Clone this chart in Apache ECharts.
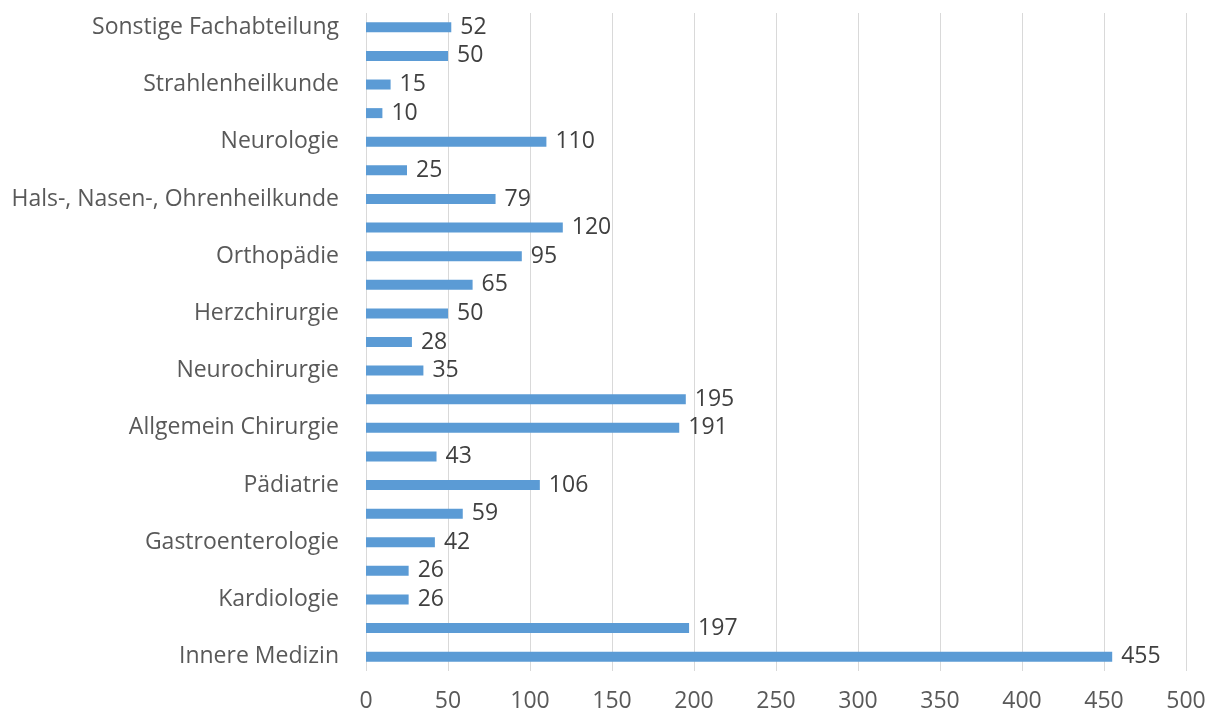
<!DOCTYPE html>
<html>
<head>
<meta charset="utf-8">
<style>
  html, body { margin: 0; padding: 0; background: #fff; }
  #chart { width: 1213px; height: 716px; }
</style>
<script src="https://cdn.jsdelivr.net/npm/echarts@6/dist/echarts.min.js"></script>
</head>
<body>
<div id="chart"></div>
<script>
// bottom to top; every second category has no visible label
const categories = [
  'Innere Medizin', '', 'Kardiologie', '', 'Gastroenterologie', '',
  'Pädiatrie', '', 'Allgemein Chirurgie', '', 'Neurochirurgie', '',
  'Herzchirurgie', '', 'Orthopädie', '', 'Hals-, Nasen-, Ohrenheilkunde', '',
  'Neurologie', '', 'Strahlenheilkunde', '', 'Sonstige Fachabteilung'
]
const values = [
  455, 197, 26, 26, 42, 59, 106, 43, 191, 195, 35, 28,
  50, 65, 95, 120, 79, 25, 110, 10, 15, 50, 52
]
const xTicks = [0, 500, 50] // min, max, interval

const chart = echarts.init(document.getElementById('chart'))

const font = "'Open Sans', sans-serif"

chart.setOption({
  animation: false,
  grid: {
    left: 366,
    right: 27,
    top: 13,
    bottom: 45,
    containLabel: false
  },
  xAxis: {
    type: 'value',
    min: xTicks[0],
    max: xTicks[1],
    interval: xTicks[2],
    axisLine: { show: false },
    axisTick: { show: false },
    axisLabel: { color: '#595959', fontSize: 23, fontFamily: font, margin: 19 },
    splitLine: { lineStyle: { color: '#d9d9d9', width: 1 } }
  },
  yAxis: {
    type: 'category',
    data: categories,
    axisLine: { show: false },
    axisTick: { show: false },
    axisLabel: { interval: 0, color: '#595959', fontSize: 23, fontFamily: font, margin: 27 }
  },
  series: [{
    type: 'bar',
    data: values,
    barWidth: 10,
    itemStyle: { color: '#5b9bd5' },
    label: {
      show: true,
      position: 'right',
      distance: 9,
      color: '#404040',
      fontSize: 23,
      fontFamily: font
    }
  }]
})
</script>
</body>
</html>
